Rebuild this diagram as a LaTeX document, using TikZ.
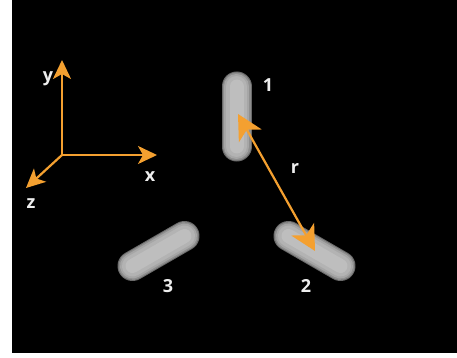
\documentclass[tikz,border=0pt]{standalone}
\usepackage{fontspec}
\setmainfont{Open Sans}
\usetikzlibrary{arrows.meta}
\definecolor{arrorange}{HTML}{F4A030}
\definecolor{txtwhite}{HTML}{EEEEEE}
\definecolor{rodA}{HTML}{6A6A6A}
\definecolor{rodB}{HTML}{8E8E8E}
\definecolor{rodC}{HTML}{A6A6A6}
\definecolor{rodD}{HTML}{B3B3B3}
\definecolor{rodE}{HTML}{BEBEBE}

\begin{document}
\begin{tikzpicture}[x=1pt, y=-1pt,
  vec/.style={draw=arrorange, line width=2.2pt, -{Stealth[length=19pt, width=18pt, inset=5pt]}},
  lbl/.style={text=txtwhite, inner sep=0pt, font=\fontsize{18}{18}\selectfont\bfseries}]
  \useasboundingbox (0,0) rectangle (457,358);
  \fill[white] (0,0) rectangle (457,358);
  \fill[black] (12,0) rectangle (457,353);

  % axes
  \coordinate (o) at (62,155);
  \coordinate (xtip) at (157,155);
  \coordinate (ytip) at (62,60);
  \coordinate (ztip) at (26,188);
  \draw[vec] (o) -- (xtip);
  \draw[vec] (o) -- (ytip);
  \draw[vec] (o) -- (ztip);
  \node[lbl] (xl) at (150,177) {x};
  \node[lbl] (yl) at (48,79) {y};
  \node[lbl] (zl) at (31,204) {z};

  % rod end points
  \coordinate (r1a) at (236.5,86.5);  \coordinate (r1b) at (236.5,146.5);
  \coordinate (r2a) at (288.5,236);   \coordinate (r2b) at (340.5,266);
  \coordinate (r3a) at (132.5,266);   \coordinate (r3b) at (184.5,236);
  \foreach \i in {1,2,3}
    \foreach \w/\c in {30/rodA,28/rodB,25/rodC,21/rodD,14/rodE}
      \draw[line width=\w pt, line cap=round, \c] (r\i a) -- (r\i b);
  \node[lbl] (n1) at (268,85) {1};
  \node[lbl] (n2) at (306,286) {2};
  \node[lbl] (n3) at (168,286) {3};

  % separation
  \coordinate (p1) at (238,114);
  \coordinate (p2) at (315,251);
  \draw[draw=arrorange, line width=2.2pt, {Stealth[length=25pt, width=26pt, inset=7pt]}-{Stealth[length=25pt, width=26pt, inset=7pt]}] (p1) -- (p2);
  \node[lbl] (rl) at (295,168) {r};
\end{tikzpicture}
\end{document}
